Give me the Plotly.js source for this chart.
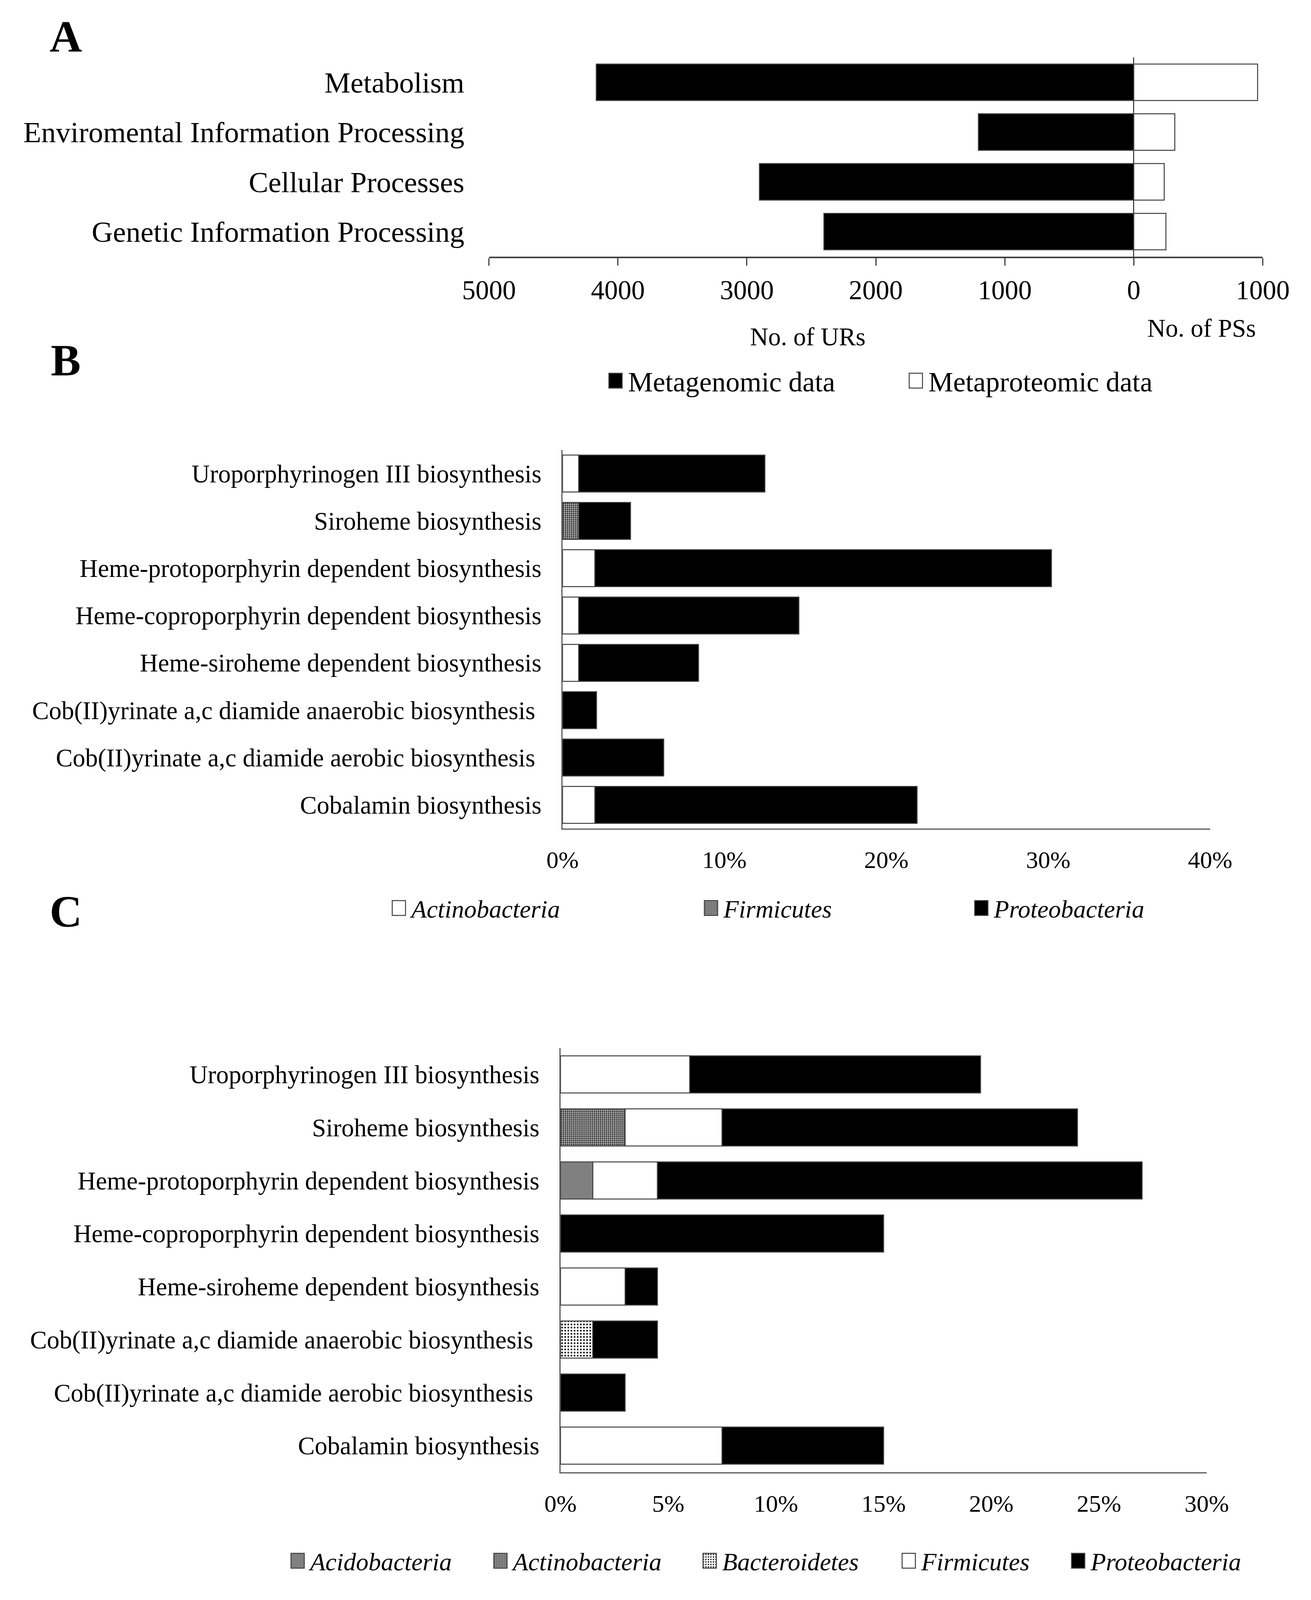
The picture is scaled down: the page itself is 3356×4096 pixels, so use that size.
<!DOCTYPE html>
<html><head><meta charset="utf-8">
<script src="https://cdn.plot.ly/plotly-3.0.1.min.js"></script>
<style>html,body{margin:0;padding:0;background:#fff}#chart{width:3356px;height:4096px}</style>
</head><body><div id="chart"></div>
<script>
// ---------- DATA ----------
const categoriesA = ['Metabolism', 'Enviromental Information Processing', 'Cellular Processes', 'Genetic Information Processing'];
const metagenomicA = [4168, 1205, 2903, 2403];      // No. of URs
const metaproteomicA = [960, 318, 236, 249];        // No. of PSs
const tickValsA = [-5000, -4000, -3000, -2000, -1000, 0, 1000];
const tickTextA = ['5000', '4000', '3000', '2000', '1000', '0', '1000'];

const pathways = [
  'Uroporphyrinogen III biosynthesis',
  'Siroheme biosynthesis',
  'Heme-protoporphyrin dependent biosynthesis',
  'Heme-coproporphyrin dependent biosynthesis',
  'Heme-siroheme dependent biosynthesis',
  'Cob(II)yrinate a,c diamide anaerobic biosynthesis\u00a0',
  'Cob(II)yrinate a,c diamide aerobic biosynthesis\u00a0',
  'Cobalamin biosynthesis'
];
// Panel B (%)
const actinoB = [1, null, 2, 1, 1, null, null, 2];
const firmB   = [null, 1, null, null, null, null, null, null];
const proteoB = [11.5, 3.2, 28.2, 13.6, 7.4, 2.1, 6.25, 19.9];
const tickValsB = [0, 10, 20, 30, 40];
const tickTextB = ['0%', '10%', '20%', '30%', '40%'];
// Panel C (%)
const acidoC  = [null, null, 1.5, null, null, null, null, null];
const actinoC = [null, 3, null, null, null, null, null, null];
const bacterC = [null, null, null, null, null, 1.5, null, null];
const firmC   = [6, 4.5, 3, null, 3, null, null, 7.5];
const proteoC = [13.5, 16.5, 22.5, 15, 1.5, 3, 3, 7.5];
const tickValsC = [0, 5, 10, 15, 20, 25, 30];
const tickTextC = ['0%', '5%', '10%', '15%', '20%', '25%', '30%'];

// ---------- GEOMETRY HELPERS ----------
const W = 3356, H = 4096, RW = 3885, RH = 4741;
const fx = v => v / RW;
const fy = v => 1 - v / RH;
const FONT = '"Liberation Serif", "Times New Roman", serif';
const OUT = '#404040';
const LEG_OFF = 32; // px from legend left to symbol centre

const lineStyle = {color: OUT, width: 2.5};
const patDense = {shape: '.', fgcolor: '#1a1a1a', bgcolor: '#c4c4c4', size: 5, solidity: 0.45};
const patLight = {shape: '.', fgcolor: '#000', bgcolor: '#fff', size: 8, solidity: 0.25};

function bar(x, y, name, color, xa, ya, legend, width, pattern) {
  const m = {color: color, line: lineStyle};
  if (pattern) m.pattern = pattern;
  return {type: 'bar', orientation: 'h', x: x, y: y, name: name, marker: m,
          xaxis: xa, yaxis: ya, legend: legend, width: width, hoverinfo: 'skip', showlegend: true};
}

const data = [
  bar(metagenomicA.map(v => -v), categoriesA, 'Metagenomic data', '#000', 'x', 'y', 'legend', 0.733),
  bar(metaproteomicA, categoriesA, 'Metaproteomic data', '#fff', 'x', 'y', 'legend2', 0.733),

  bar(actinoB, pathways, 'Actinobacteria', '#fff', 'x2', 'y2', 'legend3', 0.78),
  bar(firmB, pathways, 'Firmicutes', '#888', 'x2', 'y2', 'legend4', 0.78, patDense),
  bar(proteoB, pathways, 'Proteobacteria', '#000', 'x2', 'y2', 'legend5', 0.78),

  bar(acidoC, pathways, 'Acidobacteria', '#808080', 'x3', 'y3', 'legend6', 0.70),
  bar(actinoC, pathways, 'Actinobacteria', '#888', 'x3', 'y3', 'legend7', 0.70, patDense),
  bar(bacterC, pathways, 'Bacteroidetes', '#fff', 'x3', 'y3', 'legend8', 0.70, patLight),
  bar(firmC, pathways, 'Firmicutes', '#fff', 'x3', 'y3', 'legend9', 0.70),
  bar(proteoC, pathways, 'Proteobacteria', '#000', 'x3', 'y3', 'legend10', 0.70)
];

function leg(cxFull, cyFull, size, italic) {
  return {x: fx(cxFull) - LEG_OFF / W, y: fy(cyFull), xanchor: 'left', yanchor: 'middle',
          orientation: 'h', bgcolor: 'rgba(0,0,0,0)', borderwidth: 0, itemwidth: 54, visible: true,
          font: {family: FONT, size: size, color: '#000', style: italic ? 'italic' : 'normal'}};
}

function note(text, xFull, yFull, size) {
  return {text: text, x: fx(xFull), y: fy(yFull), xref: 'paper', yref: 'paper', showarrow: false,
          xanchor: 'center', yanchor: 'middle', font: {family: FONT, size: size, color: '#000'}};
}

const catFontA = 75, catFontBC = 64.5;
const layout = {
  width: W, height: H, margin: {l: 0, r: 0, t: 0, b: 0},
  paper_bgcolor: '#fff', plot_bgcolor: 'rgba(0,0,0,0)',
  barmode: 'relative', showlegend: true,
  font: {family: FONT, color: '#000'},
  xaxis: {domain: [fx(1449), fx(3742)], anchor: 'y', range: [-5000, 1000],
          tickmode: 'array', tickvals: tickValsA, ticktext: tickTextA,
          ticks: 'outside', ticklen: 19, tickwidth: 3, tickcolor: OUT,
          showline: true, linecolor: OUT, linewidth: 4,
          zeroline: true, zerolinecolor: '#000', zerolinewidth: 2, showgrid: false,
          tickfont: {family: FONT, size: 69, color: '#000'}, ticklabelstandoff: 4},
  yaxis: {domain: [fy(760), fy(170)], anchor: 'x', type: 'category', range: [3.5, -0.5],
          showline: false, showgrid: false, zeroline: false, ticks: '',
          tickfont: {family: FONT, size: catFontA, color: '#000'}, ticklabelstandoff: 62},

  xaxis2: {domain: [fx(1667), fx(3586)], anchor: 'y2', range: [0, 40],
           tickmode: 'array', tickvals: tickValsB, ticktext: tickTextB, ticks: '',
           showline: true, linecolor: '#595959', linewidth: 3, zeroline: false, showgrid: false,
           tickfont: {family: FONT, size: 62, color: '#000'}, ticklabelstandoff: 24},
  yaxis2: {domain: [fy(2455), fy(1333)], anchor: 'x2', type: 'category', range: [7.5, -0.5],
           showline: true, linecolor: '#595959', linewidth: 3, showgrid: false, zeroline: false, ticks: '',
           tickfont: {family: FONT, size: catFontBC, color: '#000'}, ticklabelstandoff: 38},

  xaxis3: {domain: [fx(1661), fx(3576)], anchor: 'y3', range: [0, 30],
           tickmode: 'array', tickvals: tickValsC, ticktext: tickTextC, ticks: '',
           showline: true, linecolor: '#595959', linewidth: 3, zeroline: false, showgrid: false,
           tickfont: {family: FONT, size: 62, color: '#000'}, ticklabelstandoff: 24},
  yaxis3: {domain: [fy(4362), fy(3105)], anchor: 'x3', type: 'category', range: [7.5, -0.5],
           showline: true, linecolor: '#595959', linewidth: 3, showgrid: false, zeroline: false, ticks: '',
           tickfont: {family: FONT, size: catFontBC, color: '#000'}, ticklabelstandoff: 38},

  legend:   leg(1824, 1128, 71.5, false),
  legend2:  leg(2714, 1128, 71.5, false),
  legend3:  leg(1182, 2691, 64, true),
  legend4:  leg(2107, 2691, 64, true),
  legend5:  leg(2908, 2691, 64, true),
  legend6:  leg(882, 4625, 64, true),
  legend7:  leg(1483, 4625, 64, true),
  legend8:  leg(2103, 4625, 64, true),
  legend9:  leg(2693, 4625, 64, true),
  legend10: leg(3195, 4625, 64, true),

  annotations: [
    note('<b>A</b>', 195, 108, 115),
    note('<b>B</b>', 195, 1068, 115),
    note('<b>C</b>', 195, 2701, 115),
    note('No. of URs', 2394, 998, 64.5),
    note('No. of PSs', 3561, 973, 64.5)
  ]
};

const gd = document.getElementById('chart');
Plotly.newPlot(gd, data, layout, {staticPlot: true}).then(() => {
  gd.querySelectorAll('g.legendpoints path').forEach(p => {
    p.setAttribute('d', 'M17,19H-17V-19H17Z');
  });
});
</script>
</body></html>
